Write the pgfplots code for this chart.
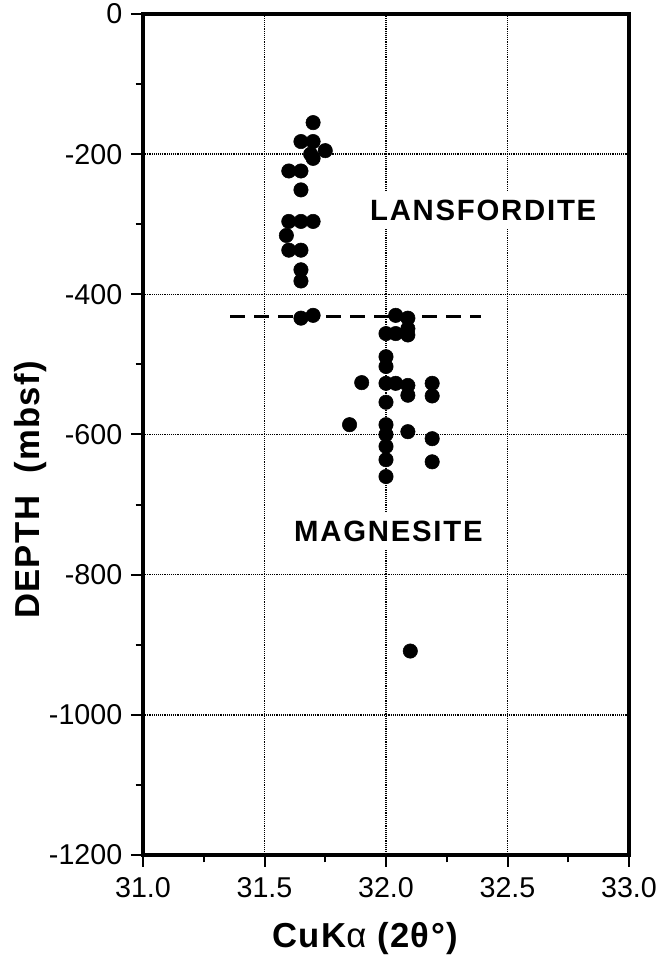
\documentclass[border=0pt]{standalone}
\usepackage{fontspec}
\setmainfont{Liberation Sans}
\newfontfamily\widefont[LetterSpace=4]{Liberation Sans}
\newfontfamily\tagfont[LetterSpace=6]{Liberation Sans}
\usepackage{pgfplots}
\pgfplotsset{compat=1.18}

% Lansfordite samples: peak position (2theta) vs depth
\pgfplotstableread{
x y
31.70 -155
31.65 -182
31.70 -182
31.69 -200
31.75 -195
31.70 -206
31.60 -224
31.65 -224
31.65 -251
31.60 -296
31.65 -296
31.70 -296
31.59 -316
31.60 -337
31.65 -337
31.65 -365
31.65 -381
31.65 -434
31.70 -430
}\lansfordite

% Magnesite samples
\pgfplotstableread{
x y
32.04 -430
32.09 -434
32.09 -449
32.00 -456
32.04 -456
32.09 -458
32.00 -489
32.00 -503
31.90 -526
32.00 -527
32.04 -527
32.09 -530
32.09 -544
32.19 -527
32.19 -545
32.00 -554
32.00 -586
31.85 -586
32.09 -596
32.00 -600
32.19 -606
32.00 -617
32.00 -636
32.19 -639
32.00 -660
32.10 -909
}\magnesite

\begin{document}
\begin{tikzpicture}
\path[use as bounding box] (-107.25pt,-75pt) rectangle (389.25pt,641.25pt);
\begin{axis}[
  at={(0,0)}, anchor=south west,
  scale only axis, width=364.5pt, height=630.75pt,
  xmin=31, xmax=33, ymin=-1200, ymax=0,
  xtick={31,31.5,32,32.5,33},
  xticklabels={31.0,31.5,32.0,32.5,33.0},
  ytick={-1200,-1000,-800,-600,-400,-200,0},
  yticklabels={-1200,-1000,-800,-600,-400,-200,0},
  minor x tick num=1, minor y tick num=1,
  xtick pos=bottom, ytick pos=left,
  tick align=outside, major tick length=9pt, minor tick length=5.5pt,
  every tick/.style={black, line width=1.5pt},
  axis line style={line width=2.3pt},
  grid=major,
  major grid style={black, densely dotted, line width=1.2pt},
  ticklabel style={font=\fontsize{21.5}{24}\selectfont},
  yticklabel style={xshift=-3pt},
  xticklabel style={yshift=-4pt},
  xlabel={\widefont\bfseries CuK{\mdseries α} (2θ°)},
  ylabel={\widefont\bfseries DEPTH\ \ (mbsf)},
  label style={font=\fontsize{26}{30}\selectfont},
  xlabel style={at={(axis description cs:0.457,-0.1094)}, anchor=base},
  ylabel style={at={(axis description cs:-0.213,0.434)}, anchor=base},
  clip=false,
]
\addplot[black, line width=2.2pt, dash pattern=on 11pt off 7pt]
  coordinates {(31.36,-432) (32.39,-432)};
\addplot[only marks, mark=*, mark size=5.4pt, black] table[x=x,y=y] {\lansfordite};
\addplot[only marks, mark=*, mark size=5.4pt, black] table[x=x,y=y] {\magnesite};
\node[font=\tagfont\bfseries\fontsize{22}{24}\selectfont, fill=white, inner sep=6pt, anchor=base]
  at (axis cs:32.40,-295) {LANSFORDITE};
\node[font=\tagfont\bfseries\fontsize{22}{24}\selectfont, fill=white, inner sep=6pt, anchor=base]
  at (axis cs:32.01,-753) {MAGNESITE};
\end{axis}
\end{tikzpicture}
\end{document}
